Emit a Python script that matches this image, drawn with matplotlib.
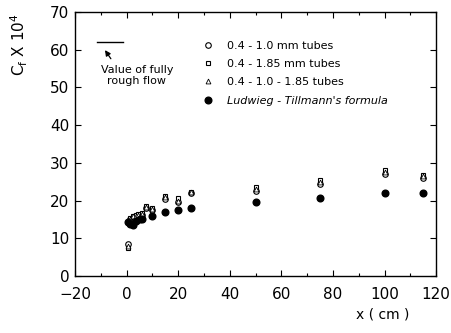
import matplotlib
matplotlib.use("Agg")
import matplotlib.pyplot as plt
from matplotlib.ticker import MultipleLocator

plt.rcParams['font.family'] = ['DejaVu Sans']

# Data
x_open = [0.5, 1.5, 2.5, 3.5, 4.5, 6, 7.5, 10, 15, 20, 25, 50, 75, 100, 115]
y_circle = [8.5, 15.0, 15.5, 15.8, 16.0, 16.2, 18.0, 17.5, 20.5, 19.5, 22.0, 22.5, 24.5, 27.0, 26.0]
y_square = [7.5, 15.5, 16.0, 16.2, 16.5, 16.6, 18.6, 18.0, 21.3, 20.6, 22.4, 23.5, 25.5, 28.0, 26.8]
y_triangle = [8.0, 15.2, 15.8, 16.0, 16.2, 16.4, 18.3, 17.8, 21.0, 20.0, 22.2, 23.0, 25.0, 27.5, 26.5]
x_lt = [0.5, 1.5, 2.5, 3.5, 5, 6, 10, 15, 20, 25, 50, 75, 100, 115]
y_lt = [14.2, 13.8, 13.5, 14.5, 15.0, 15.2, 15.8, 17.0, 17.5, 18.0, 19.5, 20.8, 21.9, 21.9]
labels = ["0.4 - 1.0 mm tubes", "0.4 - 1.85 mm tubes", "0.4 - 1.0 - 1.85 tubes",
          "Ludwieg - Tillmann's formula"]
rough_x = [-11.5, -1.5]
rough_y = 62

fig = plt.figure(figsize=(4.52, 3.33), dpi=100)
ax = fig.add_axes([0.166, 0.171, 0.799, 0.793])

ms_open = 4
ax.plot(x_open, y_circle, 'o', mfc='white', mec='black', ms=ms_open, mew=0.8, label=labels[0])
ax.plot(x_open, y_square, 's', mfc='white', mec='black', ms=ms_open - 0.5, mew=0.8, label=labels[1])
ax.plot(x_open, y_triangle, '^', mfc='white', mec='black', ms=ms_open - 0.5, mew=0.6, label=labels[2])
ax.plot(x_lt, y_lt, 'o', mfc='black', mec='black', ms=4.8, label=labels[3])

ax.plot(rough_x, [rough_y, rough_y], color='black', lw=1)
ax.annotate("", xy=(-9, 60.5), xytext=(-5.5, 57),
            arrowprops=dict(arrowstyle='-|>', color='black', lw=0.9, mutation_scale=8))
ax.text(4, 53.2, "Value of fully\nrough flow", ha='center', va='center', fontsize=8,
        linespacing=1.15)

ax.set_xlim(-20, 120)
ax.set_ylim(0, 70)
ax.xaxis.set_major_locator(MultipleLocator(20))
ax.xaxis.set_minor_locator(MultipleLocator(10))
ax.yaxis.set_major_locator(MultipleLocator(10))
ax.tick_params(which='both', direction='in', top=True, right=True, labelsize=11)
ax.tick_params(which='major', length=4, width=0.8)
ax.tick_params(which='minor', length=2, width=0.8)
ax.tick_params(axis='x', which='major', pad=8)
ax.tick_params(axis='y', which='major', pad=4)
for s in ax.spines.values():
    s.set_linewidth(1.0)

ax.set_ylabel(r"C$_\mathregular{f}$ X 10$^\mathregular{4}$", fontsize=11)
ax.yaxis.set_label_coords(-0.125, 0.875)
fig.text(0.847, 0.055, "x ( cm )", ha='center', va='center', fontsize=10)

leg = ax.legend(loc='upper left', bbox_to_anchor=(0.352, 0.892), frameon=False, fontsize=8,
                handletextpad=1.2, labelspacing=0.75, handlelength=1.0, borderaxespad=0,
                borderpad=0)
leg.get_texts()[3].set_style('italic')

fig.savefig("out.png", dpi=100)
